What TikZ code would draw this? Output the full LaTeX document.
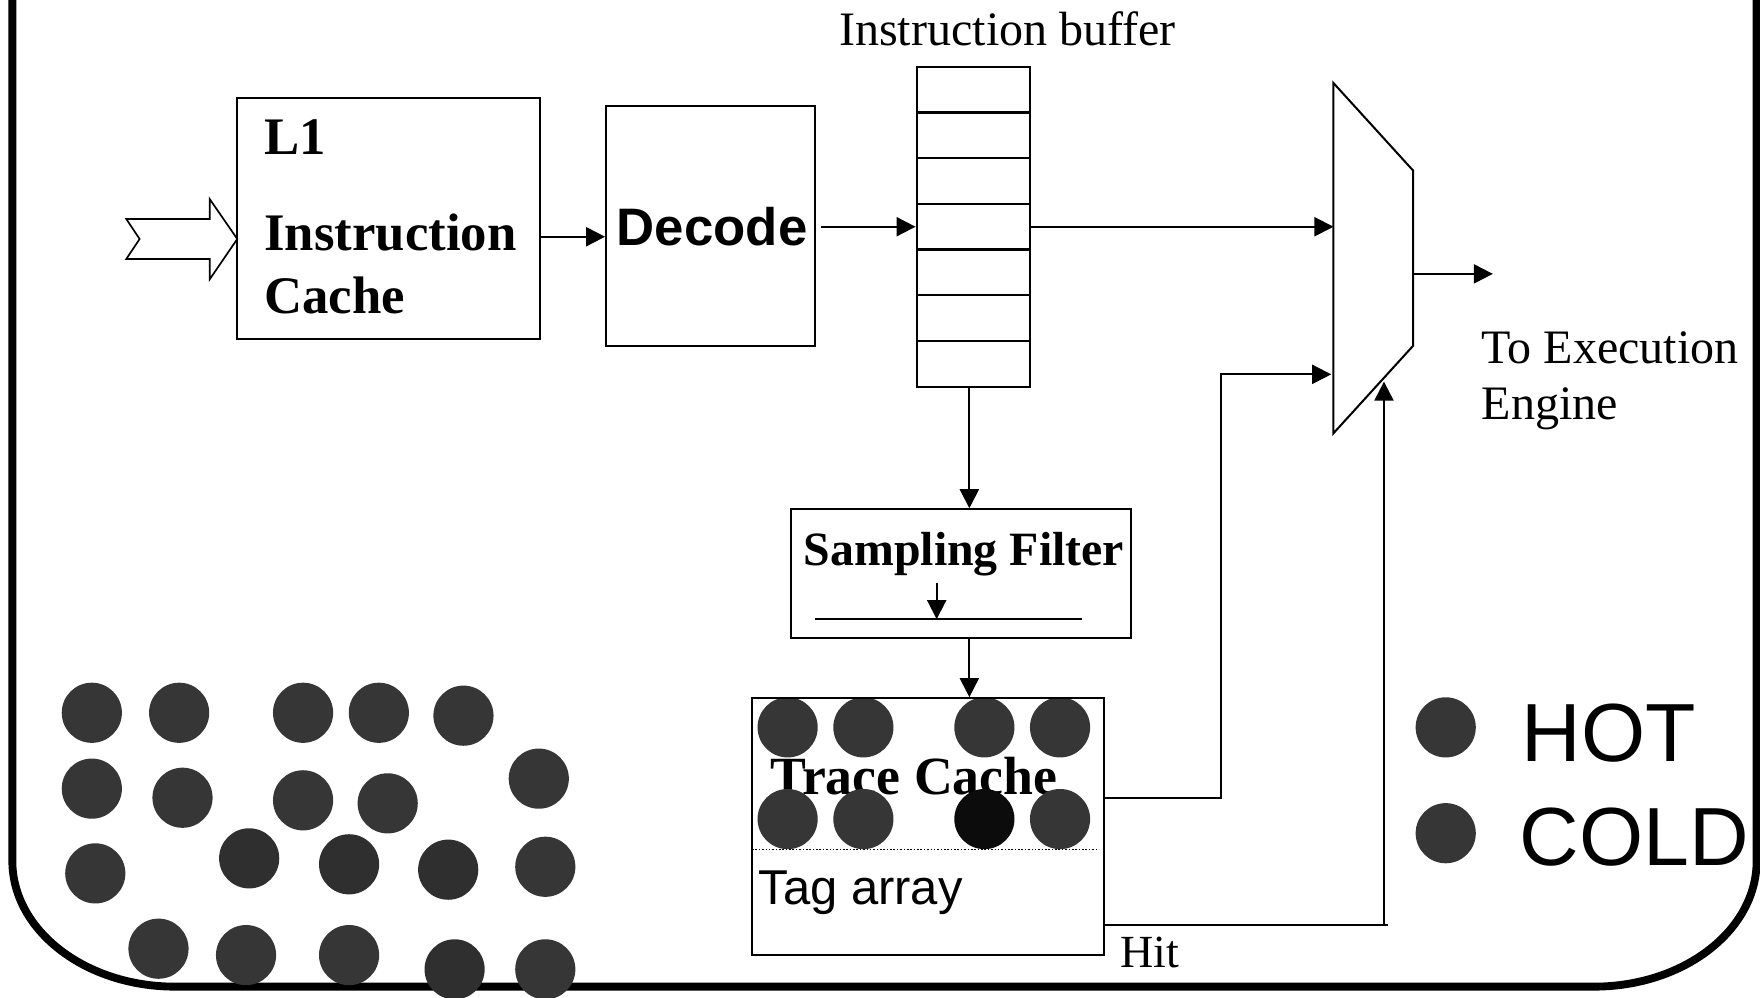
\documentclass[tikz,border=0pt]{standalone}
\usepackage{fontspec}
\setmainfont{Liberation Serif}
\setsansfont{Liberation Sans}
\usetikzlibrary{arrows.meta}

\definecolor{dot}{HTML}{363636}
\definecolor{dotdark}{HTML}{2F2F2F}
\definecolor{dotblack}{HTML}{0C0C0C}

\begin{document}
\begin{tikzpicture}[x=1pt,y=-1pt,
  box/.style={draw, line width=1.8pt, inner sep=0pt},
  wire/.style={line width=1.8pt},
  flow/.style={wire, -{Triangle[length=17pt,width=17pt]}},
  ball/.style={circle, fill=dot, minimum size=53.6pt, inner sep=0pt},
  lbl/.style={inner sep=0pt, anchor=base west},
  serifbig/.style={font=\bfseries\fontsize{47}{47}\selectfont},
]
\useasboundingbox (0,0) rectangle (1568,889);

% outer frame with rounded lower corners
\draw[line width=7pt] (11,-10) -- (11,767)
  .. controls (11,828.9) and (75.9,879) .. (156,879) -- (1420,879)
  .. controls (1500.1,879) and (1565,828.9) .. (1565,767) -- (1565,-10);

% population of instructions
\foreach \n/\px/\py/\c in {
  1/81.8/635/dot, 2/159.6/635/dot, 3/270/635/dot, 4/337.5/635/dot, 5/412.9/637.6/dot,
  6/81.8/702.6/dot, 7/162.6/710.7/dot, 8/270/713/dot, 9/345.4/715.7/dot, 10/480/693.7/dot,
  11/84.9/778.1/dot, 12/222/764.7/dotdark, 13/311/770/dotdark, 14/399.3/774.8/dotdark, 15/485.8/772.2/dot,
  16/141.2/845.2/dot, 17/219.2/850.9/dot, 18/311/850.9/dot, 19/405/863.6/dotdark, 20/485.8/863.6/dot}
  \node[ball, fill=\c] (pop\n) at (\px,\py) {};

% L1 instruction cache
\node[box, minimum width=270pt, minimum height=214.4pt] (l1) at (346.4,194.8) {};
\node[lbl, serifbig] (l1a) at (235.3,137.5) {L1};
\node[lbl, serifbig] (l1b) at (235.3,222.8) {Instruction};
\node[lbl, serifbig] (l1c) at (235.3,279.2) {Cache};

% hollow fetch arrow into the cache
\draw[line width=1.5pt, line join=miter] (112.5,195.1) -- (124.4,212.9) -- (112.5,230.8)
  -- (186.8,230.8) -- (186.8,248.9) -- (211.4,212.9) -- (186.8,177.3)
  -- (186.8,195.1) -- cycle;

% decoder
\node[box, minimum width=186pt, minimum height=213.9pt] (dec) at (633,201.05) {};
\node[lbl, font=\sffamily\bfseries\fontsize{47}{47}\selectfont] (dect) at (549.4,218.9) {Decode};

\coordinate (a1) at (481.4,210.9);
\draw[flow] (a1) -- (a1 -| dec.west);

% instruction buffer
\node[draw, line width=2pt, inner sep=0pt, minimum width=101pt, minimum height=285.1pt] (buf) at (867.2,201.95) {};
\foreach \k in {1,...,6}
  \draw[line width=2pt] (816.7,59.4+40.73*\k) -- (917.7,59.4+40.73*\k);
\node[lbl, font=\fontsize{42.8}{42.8}\selectfont] (buflbl) at (747.5,40.1) {Instruction buffer};

\coordinate (a2) at (731.2,202);
\draw[flow] (a2) -- (a2 -| buf.west);

% multiplexer
\draw[wire, line join=miter] (1188,74) -- (1259,152) -- (1259,308) -- (1188,386) -- cycle;
\coordinate (muxin1) at (1188,202);
\coordinate (muxin2) at (1186,333.5);
\coordinate (muxsel) at (1233,340);
\coordinate (muxout) at (1259,244);
\coordinate (exec) at (1330,244);

\draw[flow] (917.7,202) -- (muxin1);
\draw[flow] (muxout) -- (exec);
\node[lbl, font=\fontsize{42.8}{42.8}\selectfont] (exa) at (1320,323.5) {To Execution};
\node[lbl, font=\fontsize{42.8}{42.8}\selectfont] (exb) at (1320,373.5) {Engine};

% sampling filter
\node[box, minimum width=303pt, minimum height=114.3pt] (samp) at (855.9,510.85) {};
\node[lbl, font=\bfseries\fontsize{42.6}{42.6}\selectfont] (sampt) at (716,504) {Sampling Filter};
\coordinate (sl) at (726,551.6);
\coordinate (sr) at (964,551.6);
\coordinate (sin) at (834.5,519);
\draw[wire] (sl) -- (sr);
\draw[flow] (sin) -- (sin |- sl);

\coordinate (ax) at (863.6,0);
\draw[flow] (buf.south -| ax) -- (samp.north -| ax);

% trace cache
\node[lbl, font=\bfseries\fontsize{47.9}{47.9}\selectfont] (tct) at (686,708) {Trace Cache};
\foreach \n/\px/\py/\c in {
  1/701.7/648/dot, 2/769.2/648/dot, 3/877/648/dot, 4/944.4/648/dot,
  5/701.7/729.7/dot, 6/769.2/729.7/dot, 7/877/729.7/dotblack, 8/944.4/729.7/dot}
  \node[ball, fill=\c] (tc\n) at (\px,\py) {};
\node[box, minimum width=313.9pt, minimum height=229pt] (trace) at (826.65,736.5) {};
\draw[line width=1pt, dash pattern=on 1.4pt off 1.6pt] (670,756.5) -- (979,756.5);
\node[lbl, font=\sffamily\fontsize{43.6}{43.6}\selectfont] (tag) at (675.6,806) {Tag array};

\draw[flow] (samp.south -| ax) -- (trace.north -| ax);

% trace cache outputs towards the multiplexer
\coordinate (t1) at (983.6,711);
\coordinate (t2) at (983.6,824);
\coordinate (hitend) at (1237,824);
\draw[flow] (t1) -- (1087.5,711) |- (muxin2);
\draw[wire] (t2) -- (hitend);
\draw[flow] (muxsel |- t2) -- (muxsel);
\node[lbl, font=\fontsize{41}{41}\selectfont] (hit) at (998,862) {Hit};

% legend
\node[ball] (hotdot) at (1288,648) {};
\node[ball] (colddot) at (1288,742.3) {};
\node[lbl, font=\sffamily\fontsize{73.5}{73.5}\selectfont] (hot) at (1355.7,678) {HOT};
\node[lbl, font=\sffamily\fontsize{73.5}{73.5}\selectfont] (cold) at (1353.5,770.7) {COLD};
\end{tikzpicture}
\end{document}
